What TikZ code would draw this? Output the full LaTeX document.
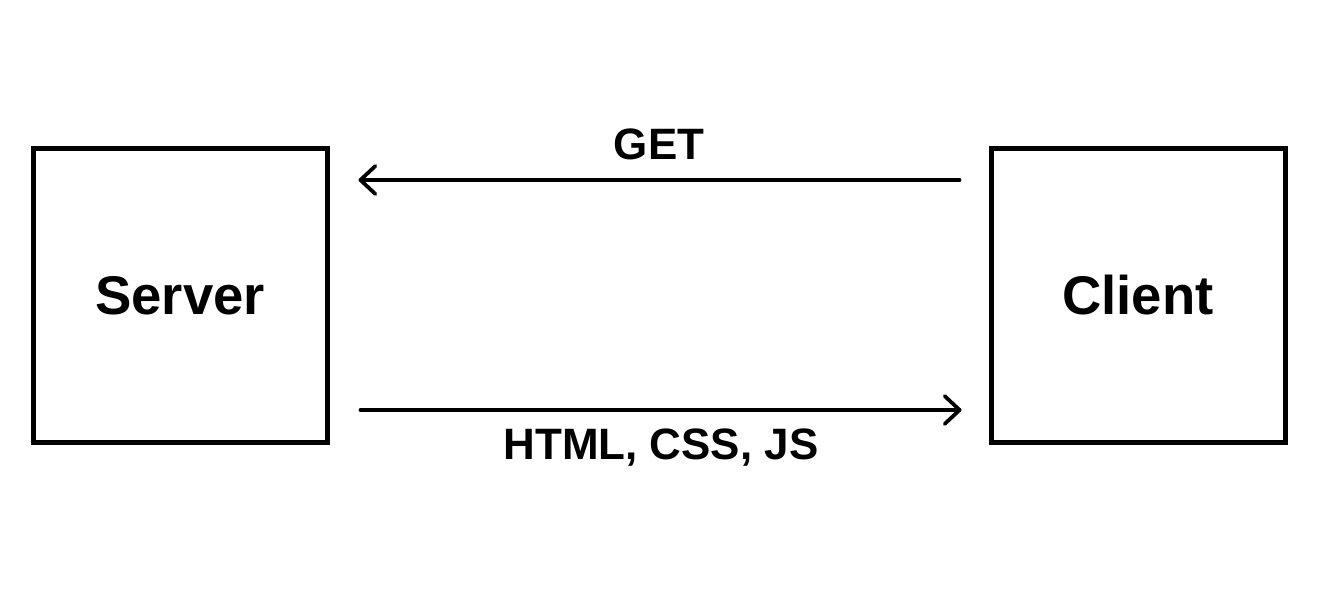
\documentclass[tikz,border=0pt]{standalone}
\usepackage{fontspec}
\setmainfont{Liberation Sans}
\usepackage{tikz}
\usetikzlibrary{arrows.meta}
\usetikzlibrary{positioning,calc}
\definecolor{inkblack}{RGB}{0,0,0}
\tikzset{
  hostbox/.style={draw=inkblack,line width=0.1cm,minimum width=5.88cm,
    minimum height=5.88cm,font=\fontsize{31}{37}\selectfont\bfseries},
  flow/.style={inkblack,line width=0.075cm,line cap=round,
    -{Straight Barb[length=3mm,width=5.6mm,line cap=round,line join=round]}},
  flowlabel/.style={font=\fontsize{25}{30}\selectfont\bfseries,text=inkblack}
}

\begin{document}
\begin{tikzpicture}
    \useasboundingbox (0,0) rectangle (26.36,-11.84);
    % the two machines
    \node[hostbox] (server) at (3.60,-5.91) {Server};
    \node[hostbox] (client) at (22.76,-5.91) {Client};
    % request goes up top, right to left
    \draw[flow] ([xshift=-0.58cm,yshift=2.31cm]client.west)
      -- node[flowlabel,above=0.24cm] (get) {GET}
      ([xshift=0.58cm,yshift=2.31cm]server.east);
    % response comes back below
    \draw[flow] ([xshift=0.62cm,yshift=-2.29cm]server.east)
      -- node[flowlabel,below=0.22cm] (files) {HTML, CSS, JS}
      ([xshift=-0.54cm,yshift=-2.29cm]client.west);
  \end{tikzpicture}
\end{document}
